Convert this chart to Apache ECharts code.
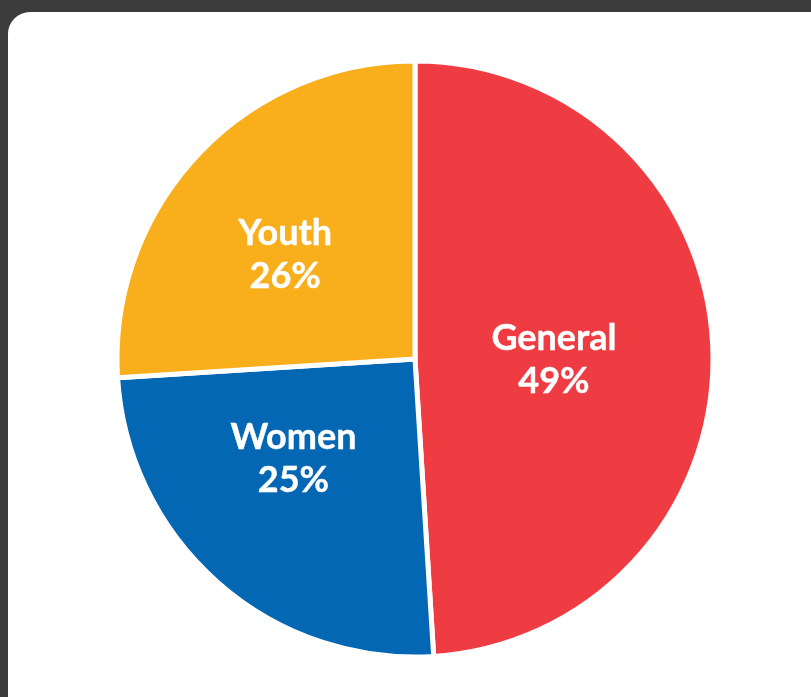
<!DOCTYPE html>
<html>
<head>
<meta charset="utf-8">
<script src="https://cdn.jsdelivr.net/npm/echarts@6/dist/echarts.min.js"></script>
<style>
  html, body { margin: 0; padding: 0; width: 811px; height: 697px; overflow: hidden; background: #3c3c3c; }
  #card { position: absolute; left: 8px; top: 12px; width: 840px; height: 730px; background: #ffffff; border-radius: 22px; }
  #chart { position: absolute; left: 0; top: 0; width: 811px; height: 697px; }
</style>
</head>
<body>
<div id="card"></div>
<div id="chart"></div>
<script>
// Share of funding by group
const categories = ['General', 'Women', 'Youth'];
const shares = [49, 25, 26];
const colors = ['#ef3c42', '#0367b4', '#f9ae1b'];

// nudges for the in-slice labels, in pixels
const labelShift = [[-13, 6], [-21, -14], [-19, 0]];

const chart = echarts.init(document.getElementById('chart'), null, { renderer: 'canvas' });

chart.setOption({
  backgroundColor: 'transparent',
  animation: false,
  series: [{
    type: 'pie',
    center: [415, 359],
    radius: [0, 298],
    startAngle: 90,
    clockwise: true,
    avoidLabelOverlap: false,
    itemStyle: { borderColor: '#ffffff', borderWidth: 5 },
    label: {
      show: true,
      position: 'inside',
      color: '#ffffff',
      fontFamily: 'Lato, sans-serif',
      fontWeight: 'bold',
      fontSize: 36,
      lineHeight: 43,
      textBorderColor: '#ffffff',
      textBorderWidth: 0.4,
      formatter: p => p.name + '\n' + p.value + '%'
    },
    labelLayout: p => ({ dx: labelShift[p.dataIndex][0], dy: labelShift[p.dataIndex][1] }),
    labelLine: { show: false },
    emphasis: { disabled: true },
    data: categories.map((name, i) => ({
      name,
      value: shares[i],
      itemStyle: { color: colors[i] }
    }))
  }]
});
</script>
</body>
</html>
